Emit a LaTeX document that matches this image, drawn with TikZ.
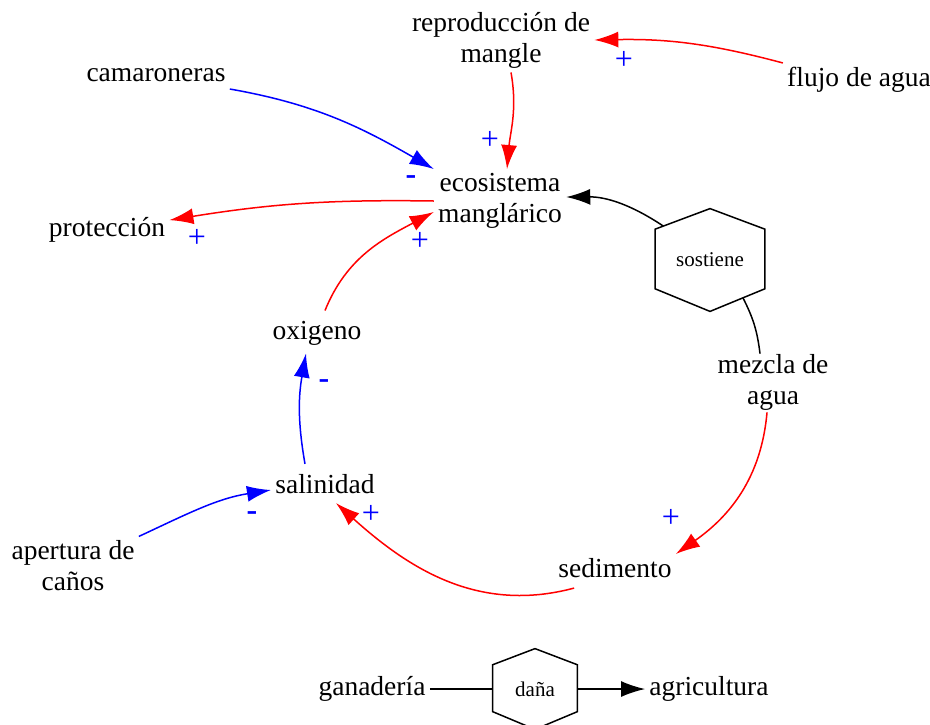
\documentclass[tikz,border=0pt]{standalone}
\usepackage{fontspec}
\setmainfont{Liberation Serif}
\usepackage{xcolor}
\usepackage{tikz}
\usetikzlibrary{arrows.meta,calc}

\begin{document}
\begin{tikzpicture}[x=0.5pt,y=0.5pt,
	every node/.style={font=\fontsize{13.75}{15.5}\selectfont, align=center, inner sep=2pt},
	hexa/.style={minimum width=54.5pt, minimum height=51pt, inner sep=0pt, font=\fontsize{10.5}{12}\selectfont},
	signo/.style={text=blue, inner sep=0pt, font=\fontsize{16}{16}\selectfont},
	rojo/.style={red, line width=0.75pt, -{Latex[length=12pt,width=8pt]}},
	azul/.style={blue, line width=0.75pt, -{Latex[length=12pt,width=8pt]}},
	negro/.style={black, line width=0.75pt}]
			\useasboundingbox (0,0) rectangle (930,-724);
			% Nodos
			\node (repro) at (501,-40) {reproducción de\\mangle};
			\node (flujo) at (859,-80) {flujo de agua};
			\node (camar) at (156,-75) {camaroneras};
			\node (eco) at (500,-201) {ecosistema\\manglárico};
			\node (prot) at (107,-230) {protección};
			\node[hexa] (sost) at (710,-260) {sostiene};
			\node (mezcla) at (773,-382) {mezcla de\\agua};
			\node (oxig) at (317,-333) {oxigeno};
			\node (salin) at (325,-484) {salinidad};
			\node (apert) at (73,-566) {apertura de\\caños};
			\node (sedim) at (615,-568) {sedimento};
			\node (ganad) at (372,-689) {ganadería};
			\node[hexa, minimum width=42pt, minimum height=40pt] (dana) at (535,-689) {daña};
			\node (agric) at (709,-689) {agricultura};
			% Hexagonos
			\foreach \h in {sost,dana}{
				\coordinate (\h-1) at (\h.north);
				\coordinate (\h-2) at ($(\h.north west)!0.2!(\h.south west)$);
				\coordinate (\h-3) at ($(\h.north west)!0.78!(\h.south west)$);
				\coordinate (\h-4) at (\h.south);
				\coordinate (\h-5) at ($(\h.north east)!0.78!(\h.south east)$);
				\coordinate (\h-6) at ($(\h.north east)!0.2!(\h.south east)$);
				\draw[negro] (\h-1) -- (\h-2) -- (\h-3) -- (\h-4) -- (\h-5) -- (\h-6) -- cycle;
			}
			% Flechas
			\draw[rojo] (flujo.north west) to[bend right=8] (repro.east);
			\draw[rojo] ([xshift=5pt]repro.south) to[out=-80,in=85] ([xshift=3.5pt]eco.north);
			\draw[azul] ([yshift=-1.5pt]camar.south east) to[out=-10,in=150] (eco.north west);
			\draw[rojo] (eco.west) to[bend right=5] ([yshift=-3.5pt]prot.north east);
			\draw[negro, -{Latex[length=12pt,width=8pt]}] ($(sost-2)!0.15!(sost-1)$) to[bend right=17] ([yshift=2pt]eco.east);
			\draw[negro] ([shift={(-6.5pt,-2pt)}]mezcla.north) to[bend right=10] ($(sost-4)!0.6!(sost-5)$);
			\draw[rojo] ([shift={(-3pt,1pt)}]mezcla.south) to[out=-95,in=35] (sedim.north east);
			\draw[rojo] ([shift={(10pt,-3pt)}]sedim.south west) to[out=195,in=-42] ([shift={(5.5pt,-2.5pt)}]salin.south);
			\draw[azul] (apert.north east) to[out=25,in=189] ([yshift=-3pt]salin.west);
			\draw[azul] ([shift={(-10pt,3pt)}]salin.north) to[out=100,in=-100] ([shift={(-5.5pt,-2pt)}]oxig.south);
			\draw[rojo] ([shift={(4pt,3pt)}]oxig.north) to[out=68,in=208] ([yshift=-5.5pt]eco.west);
			\draw[negro] (ganad.east) -- (dana.west);
			\draw[negro, -{Latex[length=12pt,width=8pt]}] (dana.east) -- (agric.west);
			% Signos
			\node[signo] (s1) at (624,-60) {+};
			\node[signo] (s2) at (490,-140) {+};
			\node[signo] (s3) at (411,-180) {\textbf{-}};
			\node[signo] (s4) at (197,-238) {+};
			\node[signo] (s5) at (671,-518) {+};
			\node[signo] (s6) at (371,-514) {+};
			\node[signo] (s7) at (252,-516) {\textbf{-}};
			\node[signo] (s8) at (324,-384) {\textbf{-}};
			\node[signo] (s9) at (420,-241) {+};
		\end{tikzpicture}
\end{document}
